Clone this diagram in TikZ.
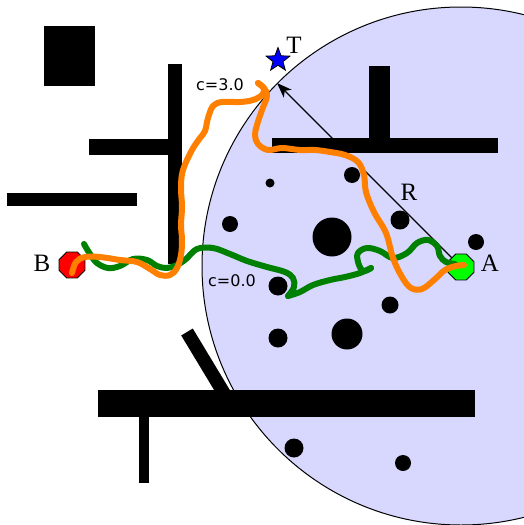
\documentclass[tikz,border=0pt]{standalone}
\usepackage{fontspec}
\newfontfamily\dejavu{DejaVu Sans}
\newfontfamily\timeslike{Liberation Serif}
\usetikzlibrary{shapes.geometric,arrows.meta}
\definecolor{regionfill}{RGB}{216,216,255}
\definecolor{pathorange}{RGB}{255,128,0}
\definecolor{pathgreen}{RGB}{0,128,0}
\definecolor{startgreen}{RGB}{0,255,0}
\begin{document}
\begin{tikzpicture}[x=1pt,y=-1pt,
  obst/.style={fill=black},
  route/.style={line width=6pt,line cap=round,line join=round},
  endpt/.style={regular polygon,regular polygon sides=8,minimum size=28pt,inner sep=0pt,draw=black,line width=0.8pt},
  letter/.style={font=\timeslike\fontsize{25}{29}\selectfont,inner sep=0pt},
  cost/.style={font=\dejavu\fontsize{16}{19}\selectfont,inner sep=0pt}]
\useasboundingbox (0,0) rectangle (524,525);
\clip (0,0) rectangle (524,525);
% reachable region
\filldraw[fill=regionfill,draw=black,line width=1pt] (461,266) circle[radius=259];
% obstacles
\fill[obst] (44,26) rectangle (95,86);
\fill[obst] (168,64) rectangle (182,264);
\fill[obst] (89,139) rectangle (168,155);
\fill[obst] (7,193) rectangle (137,206);
\fill[obst] (272,138) rectangle (498,153);
\fill[obst] (369,66) rectangle (390,138);
\fill[obst] (98,390) rectangle (475,417);
\fill[obst] (139,417) rectangle (149,483);
\draw[line width=13.5pt] (187,332) -- (228,400);
% round obstacles
\foreach \cx/\cy/\r in {270/183/4.5,352/175/8,400/220/9.5,332/237/19.5,476/242/8,230/224/8,278/286/9.5,390/305/8.5,347/334/15.5,278/338/9.5,294/448/9.5,403/463/8}
  \fill[black] (\cx,\cy) circle[radius=\r];
% end points
\node[endpt,fill=startgreen] (A) at (461,267) {};
\node[endpt,fill=red] (B) at (72,265) {};
\coordinate (Rtip) at (277,83);
\draw[line width=1.2pt,-{Stealth[length=15pt,width=11pt,inset=4pt]}] (A) -- (Rtip);
\node[star,star points=5,star point ratio=2.4,minimum size=25pt,inner sep=0pt,fill=blue,draw=black,line width=0.8pt] (Tstar) at (278,60) {};
% green path (c=0.0)
\draw[route,pathgreen] plot[smooth,tension=0.6] coordinates {(84,244) (90,254) (97,263) (108,268) (120,266) (133,259) (147,260) (157,266) (167,268) (177,265) (186,259) (197,249) (213,248) (230,254) (247,261) (267,267) (285,272) (293,278) (294,287) (288,296)};
\draw[route,pathgreen] plot[smooth,tension=0.6] coordinates {(288,296) (300,292) (313,285) (330,280) (345,277) (360,273) (371,268)};
\draw[route,pathgreen] plot[smooth,tension=0.6] coordinates {(371,268) (363,271) (358,262) (358,253) (367,248) (380,251) (393,258) (407,253) (417,243) (428,240) (437,246) (440,256) (446,262) (455,264)};
% orange path (c=3.0)
\draw[route,pathorange] plot[smooth,tension=0.6] coordinates {(72,273) (76,262) (85,257) (100,257) (120,260) (137,262) (150,269) (160,275) (170,275) (177,268) (181,255) (182,240) (181,225) (182,207) (181,187) (183,170) (192,150) (200,138) (205,131) (208,118) (213,106) (222,102) (240,102) (253,100) (262,95) (264,89) (258,83)};
\draw[route,pathorange] plot[smooth,tension=0.6] coordinates {(258,83) (264,88) (267,96) (262,110) (257,125) (255,135) (258,144) (268,150) (282,148) (300,150) (315,150) (330,152) (345,155) (358,162) (364,175) (366,192) (374,212) (386,233) (393,258) (402,277) (411,288) (422,289) (434,280) (445,270) (456,266) (464,265)};
% labels
\node[letter] (Blabel) at (42,263) {B};
\node[letter] (Alabel) at (490,263) {A};
\node[letter] (Tlabel) at (294,45) {T};
\node[letter] (Rlabel) at (409,192) {R};
\node[cost] (c3) at (220,85) {c=3.0};
\node[cost] (c0) at (232,281) {c=0.0};
\end{tikzpicture}
\end{document}
